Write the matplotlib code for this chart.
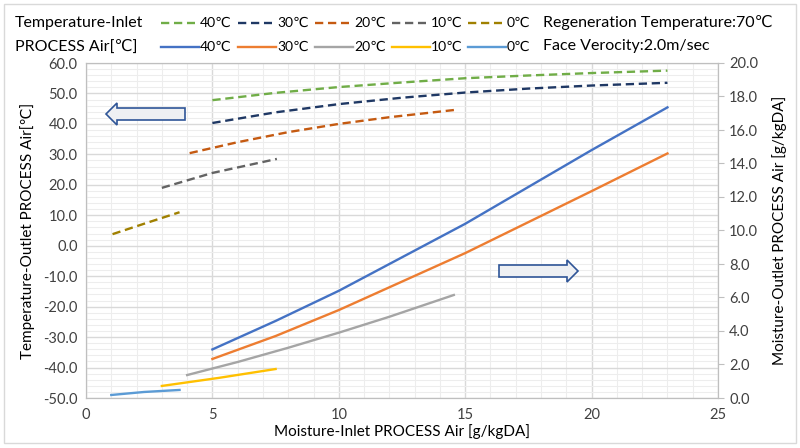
import matplotlib
matplotlib.use("Agg")
import matplotlib.pyplot as plt
from matplotlib.lines import Line2D
from matplotlib.patches import Polygon, Rectangle
from matplotlib.ticker import MultipleLocator, FormatStrFormatter

plt.rcParams['font.family'] = ['Lato', 'DejaVu Sans']

# ---- data: temperature outlet (left axis, dashed) ----
x_t40 = [5, 7.5, 10, 12.5, 15, 17.5, 20, 23]
y_t40 = [47.8, 50.2, 52.1, 53.6, 55.0, 55.9, 56.7, 57.5]
x_t30 = [5, 7.5, 10, 12.5, 15, 17.5, 20, 23]
y_t30 = [40.3, 43.8, 46.5, 48.6, 50.3, 51.6, 52.6, 53.5]
x_t20 = [4.1, 6, 8, 10, 12, 14.6]
y_t20 = [30.4, 34.0, 37.3, 40.0, 42.2, 44.6]
x_t10 = [3.0, 5, 7.55]
y_t10 = [19.0, 23.9, 28.5]
x_t0 = [1.05, 2.4, 3.7]
y_t0 = [3.8, 7.5, 11.0]

# ---- data: moisture outlet (right axis, solid) ----
x_m40 = [5, 7.5, 10, 12.5, 15, 17.5, 20, 23]
y_m40 = [2.9, 4.6, 6.4, 8.4, 10.4, 12.6, 14.8, 17.35]
x_m30 = [5, 7.5, 10, 12.5, 15, 17.5, 20, 23]
y_m30 = [2.33, 3.7, 5.25, 6.95, 8.65, 10.5, 12.35, 14.6]
x_m20 = [4, 6, 8, 10, 12, 14.55]
y_m20 = [1.37, 2.15, 3.0, 3.9, 4.85, 6.15]
x_m10 = [3.0, 5.25, 7.5]
y_m10 = [0.72, 1.2, 1.73]
x_m0 = [1.0, 2.3, 3.7]
y_m0 = [0.18, 0.36, 0.48]

labels = ['40\u2103', '30\u2103', '20\u2103', '10\u2103', '0\u2103']
dash_colors = ['#70AD47', '#1F3864', '#C55A11', '#636363', '#A08000']
solid_colors = ['#4472C4', '#ED7D31', '#A5A5A5', '#FFC000', '#5B9BD5']

W, H = 800, 448
fig = plt.figure(figsize=(8, 4.48), dpi=100)
ax = fig.add_axes([86 / W, 1 - 398 / H, (718 - 86) / W, (398 - 63) / H])
ax2 = ax.twinx()

tdata = [(x_t40, y_t40), (x_t30, y_t30), (x_t20, y_t20), (x_t10, y_t10), (x_t0, y_t0)]
mdata = [(x_m40, y_m40), (x_m30, y_m30), (x_m20, y_m20), (x_m10, y_m10), (x_m0, y_m0)]

LW = 1.7
for (xs, ys), c in zip(tdata, dash_colors):
    ax.plot(xs, ys, color=c, lw=LW, dashes=(3.5, 2.0), zorder=3)
for (xs, ys), c in zip(mdata, solid_colors):
    ax2.plot(xs, ys, color=c, lw=LW, zorder=3)

ax.set_xlim(0, 25)
ax.set_ylim(-50, 60)
ax2.set_ylim(0, 20)
ax.xaxis.set_major_locator(MultipleLocator(5))
ax.xaxis.set_minor_locator(MultipleLocator(1))
ax.yaxis.set_major_locator(MultipleLocator(10))
ax.yaxis.set_minor_locator(MultipleLocator(2))
ax.yaxis.set_major_formatter(FormatStrFormatter('%.1f'))
ax2.yaxis.set_major_locator(MultipleLocator(2))
ax2.yaxis.set_major_formatter(FormatStrFormatter('%.1f'))

ax.grid(which='major', color='#D9D9D9', lw=1.0)
ax.grid(which='minor', color='#EDEDED', lw=0.8)
ax.set_axisbelow(True)

for a in (ax, ax2):
    for s in a.spines.values():
        s.set_color('#BFBFBF')
ax.tick_params(axis='both', which='both', length=0, labelsize=10.5, colors='#404040')
ax.tick_params(axis='x', pad=7)
ax.tick_params(axis='y', pad=6)
ax2.tick_params(axis='y', length=4, color='#BFBFBF', labelsize=10.5, colors='#404040', pad=4)

ax.set_xlabel('Moisture-Inlet PROCESS Air [g/kgDA]', fontsize=11, labelpad=2)
ax.set_ylabel('Temperature-Outlet PROCESS Air[\u2103]', fontsize=11, labelpad=6)
ax2.set_ylabel('Moisture-Outlet PROCESS Air [g/kgDA]', fontsize=11, labelpad=10)

# ---- legend header (manual) ----
def fx(px):
    return px / W

def fy(py):
    return 1 - py / H

fig.text(fx(15), fy(23), 'Temperature-Inlet', fontsize=11.5, va='center', ha='left')
fig.text(fx(15), fy(47), 'PROCESS Air[\u2103]', fontsize=11.5, va='center', ha='left')
dash_x = [161, 238, 315, 392, 468]
for i in range(5):
    x0 = dash_x[i]
    fig.add_artist(Line2D([fx(x0), fx(x0 + 34)], [fy(23), fy(23)], color=dash_colors[i],
                          lw=LW, dashes=(3.5, 2.0)))
    fig.text(fx(x0 + 39), fy(23), labels[i], fontsize=10, va='center', ha='left')
    fig.add_artist(Line2D([fx(x0), fx(x0 + 38)], [fy(47), fy(47)], color=solid_colors[i], lw=LW))
    fig.text(fx(x0 + 39), fy(47), labels[i], fontsize=10, va='center', ha='left')

fig.text(fx(543), fy(23), 'Regeneration Temperature:70\u2103', fontsize=11.5, va='center', ha='left')
fig.text(fx(543), fy(46), 'Face Verocity:2.0m/sec', fontsize=11.5, va='center', ha='left')

# ---- arrows ----
def arrow(tip_x, tail_x, cy, body_h, head_h, head_len):
    d = 1 if tail_x > tip_x else -1
    base = tip_x + d * head_len
    pts = [(tip_x, cy), (base, cy - head_h / 2), (base, cy - body_h / 2),
           (tail_x, cy - body_h / 2), (tail_x, cy + body_h / 2),
           (base, cy + body_h / 2), (base, cy + head_h / 2)]
    poly = Polygon([(fx(px), fy(py)) for px, py in pts], closed=True,
                   transform=fig.transFigure, facecolor='#EEF0F3', edgecolor='#2F5597', lw=1.2,
                   zorder=5)
    fig.add_artist(poly)

arrow(106, 185, 114, 12, 22, 11)
arrow(578, 499, 271, 12, 22, 11)

# border
fig.add_artist(Rectangle((fx(4), fy(443)), fx(792), (443 - 4) / H, transform=fig.transFigure,
                         fill=False, edgecolor='#D9D9D9', lw=1.0))

fig.savefig('out.png', dpi=100)
